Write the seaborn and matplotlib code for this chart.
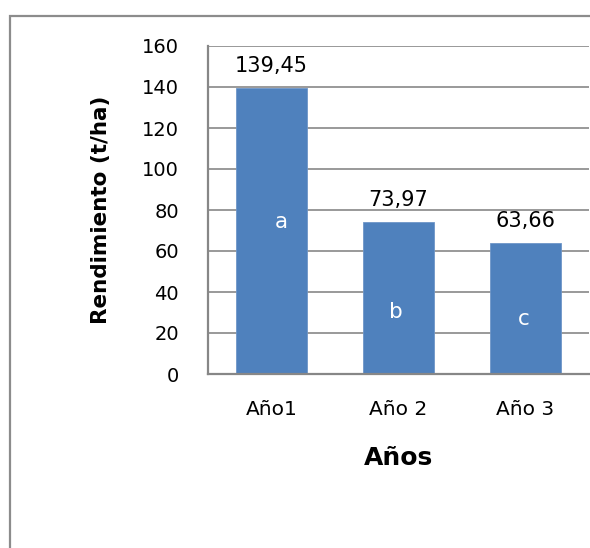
import matplotlib
matplotlib.use("Agg")
import matplotlib.pyplot as plt
import matplotlib.patches as mpatches
import seaborn as sns
import pandas as pd

# Yield per year with significance letters
categories = ["Año1", "Año 2", "Año 3"]
values = [139.45, 73.97, 63.66]
value_labels = ["139,45", "73,97", "63,66"]
letters = ["a", "b", "c"]
letter_pos = [(0.08, 74), (0.98, 30), (1.99, 27)]
y_ticks = [0, 20, 40, 60, 80, 100, 120, 140, 160]

df = pd.DataFrame({"Año": categories, "Rendimiento": values})

sns.set_theme(style="white")
plt.rcParams["font.family"] = ["DejaVu Sans"]

fig = plt.figure(figsize=(5.9, 5.48), dpi=100)
ax = fig.add_axes([208 / 590, 1 - 374 / 548, 381 / 590, 328 / 548])

bar_color = "#4F81BD"
sns.barplot(data=df, x="Año", y="Rendimiento", color=bar_color, saturation=1,
            width=0.56, edgecolor="#6E96C8", linewidth=0.6, ax=ax)

ax.set_xlim(-0.5, 2.5)
ax.set_ylim(0, 160)
ax.set_yticks(y_ticks)
ax.set_yticklabels([str(t) for t in y_ticks])

grid_color = "#878787"
ax.yaxis.grid(True, color=grid_color, linewidth=1.2)
ax.xaxis.grid(False)
ax.set_axisbelow(True)

for side in ("top", "right"):
    ax.spines[side].set_visible(False)
for side in ("left", "bottom"):
    ax.spines[side].set_color(grid_color)
    ax.spines[side].set_linewidth(1.6)

ax.tick_params(axis="y", length=0, pad=21, labelsize=14, labelcolor="black")
ax.tick_params(axis="x", length=0, pad=19, labelsize=14.5, labelcolor="black")

ax.set_ylabel("Rendimiento (t/ha)", fontsize=15.5, fontweight="bold", color="black")
ax.yaxis.set_label_coords(-0.255, 0.5)
ax.set_xlabel("Años", fontsize=18, fontweight="bold", color="black")
ax.xaxis.set_label_coords(0.5, -0.22)

# value labels above each bar
for i, (v, lab) in enumerate(zip(values, value_labels)):
    ax.annotate(lab, xy=(i, v), xytext=(0, 16), textcoords="offset points",
                ha="center", va="center", fontsize=15, color="black")

# significance letters inside the bars
for (x, y), let in zip(letter_pos, letters):
    ax.text(x, y, let, ha="center", va="center", fontsize=15.5, color="white")

# chart area frame
frame = mpatches.Rectangle((10 / 590, -0.5), 2.0, 0.5 + (1 - 16 / 548),
                           transform=fig.transFigure, fill=False,
                           edgecolor="#8C8C8C", linewidth=1.6)
fig.patches.append(frame)

fig.savefig("out.png", dpi=100, facecolor="white")
